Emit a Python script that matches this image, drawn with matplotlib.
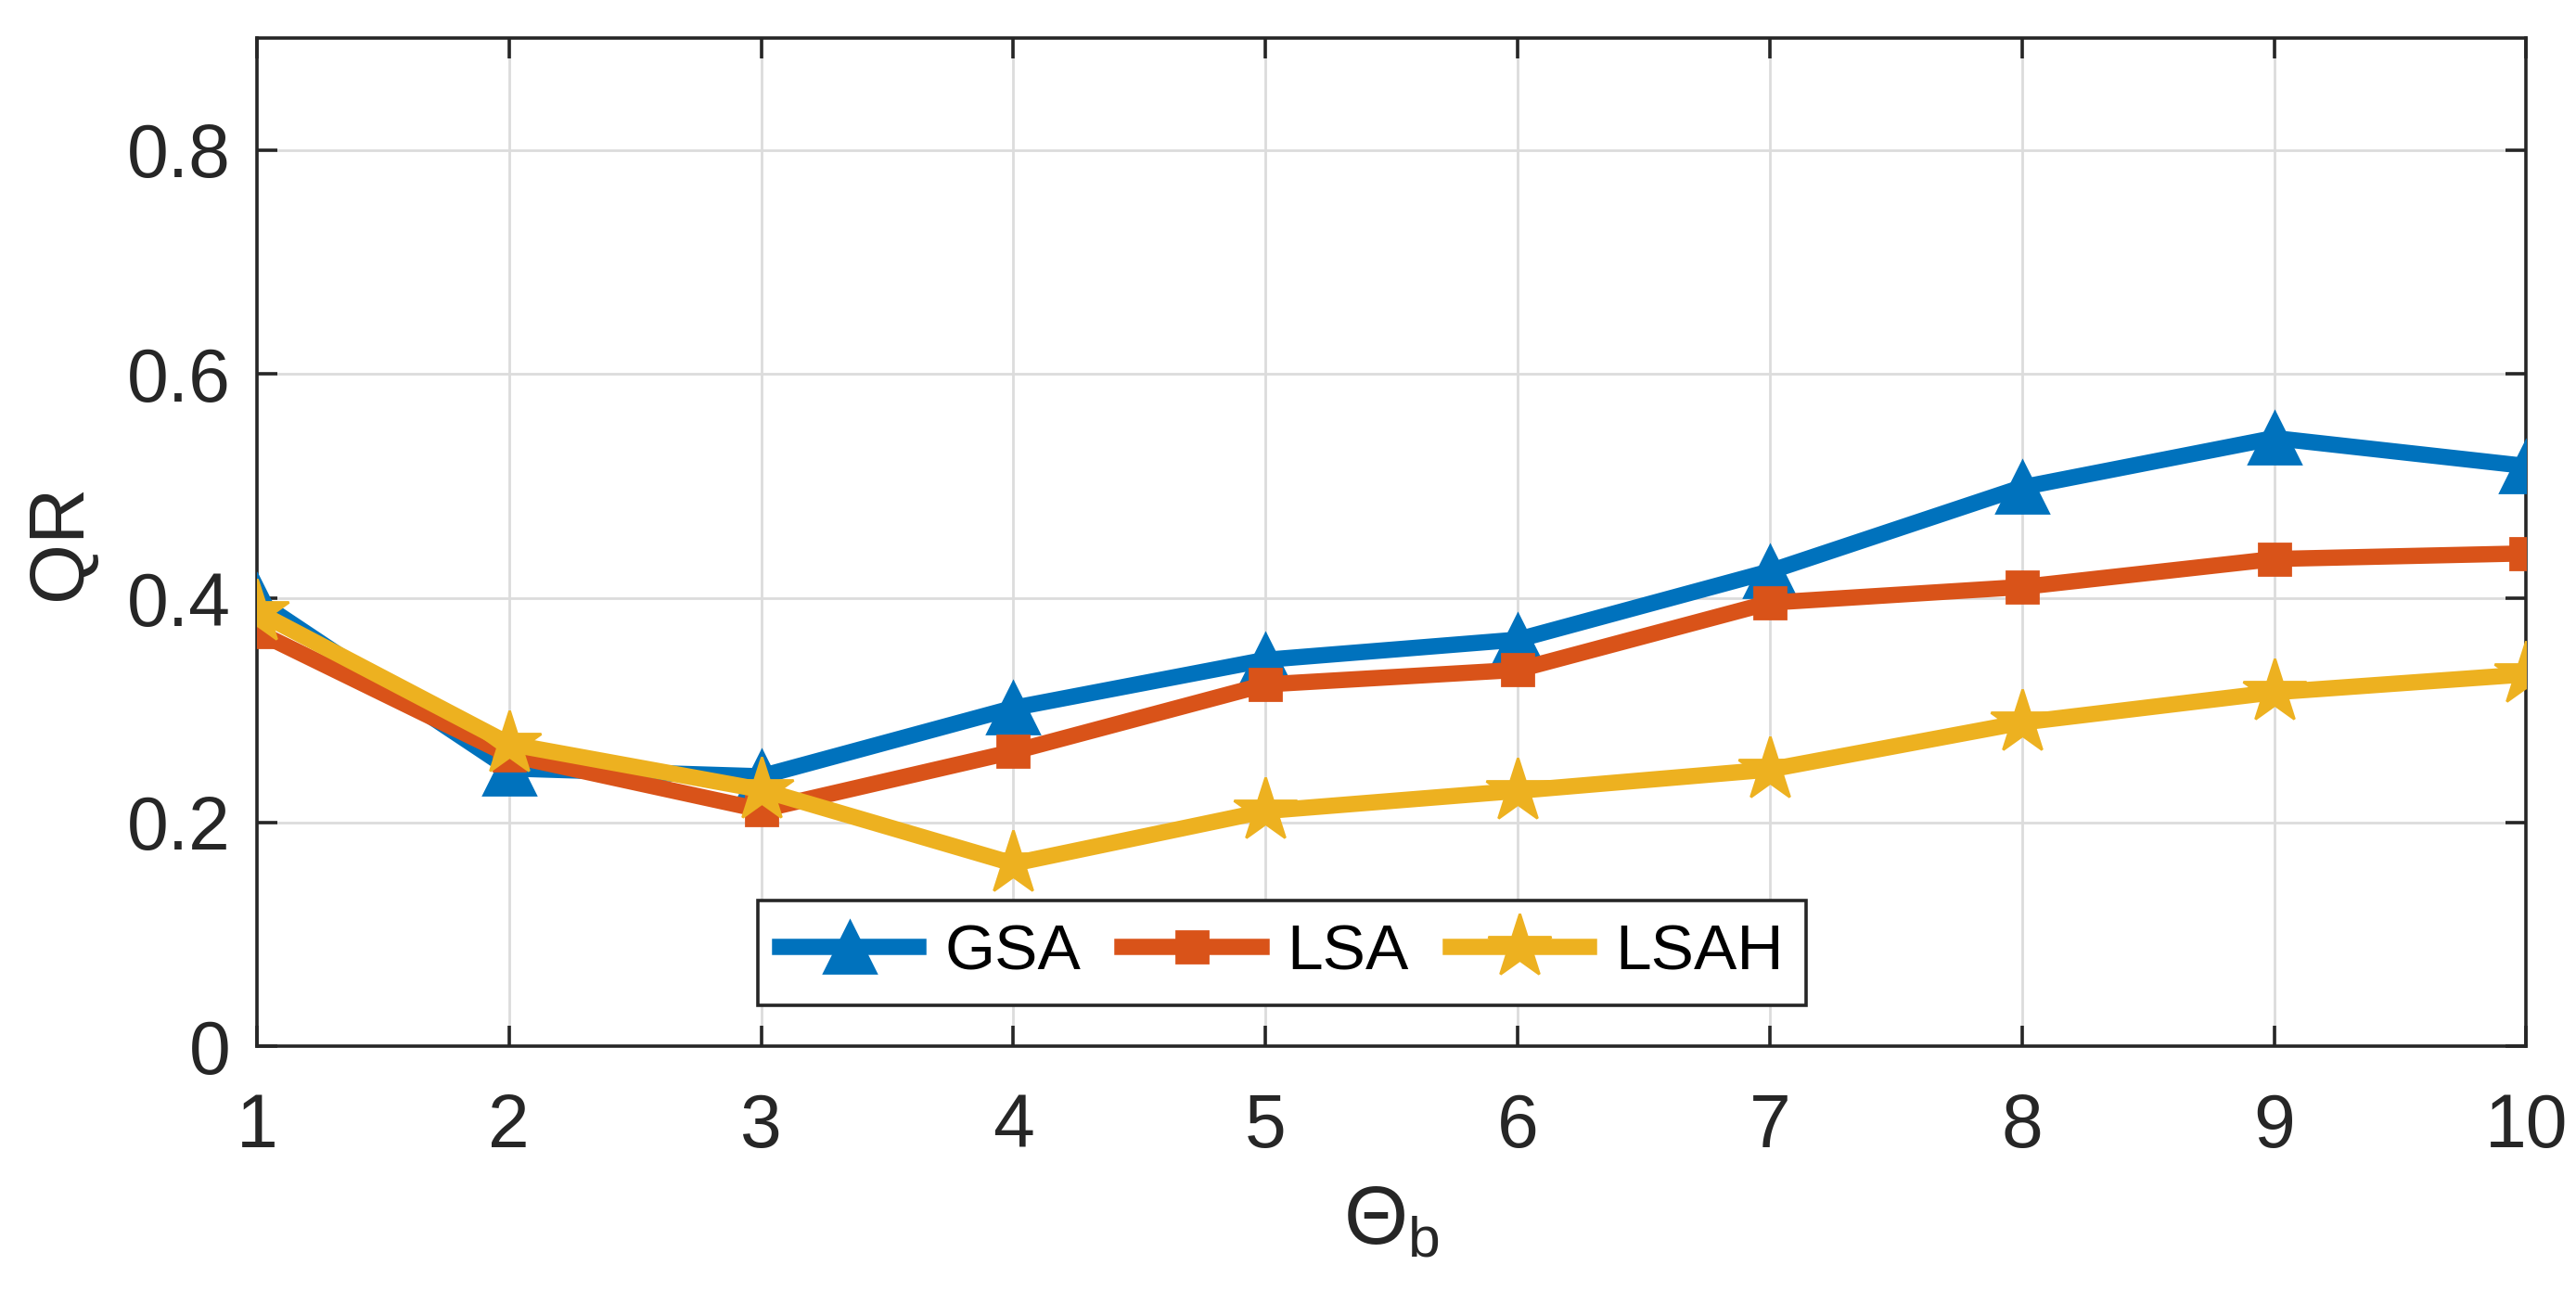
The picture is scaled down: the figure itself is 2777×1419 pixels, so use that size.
import matplotlib
matplotlib.use("Agg")
import matplotlib.pyplot as plt

# Data
theta_b = [1, 2, 3, 4, 5, 6, 7, 8, 9, 10]
gsa = [0.398, 0.248, 0.241, 0.302, 0.345, 0.363, 0.424, 0.499, 0.543, 0.518]
lsa = [0.370, 0.260, 0.211, 0.263, 0.323, 0.336, 0.396, 0.410, 0.435, 0.440]
lsah = [0.388, 0.270, 0.229, 0.163, 0.210, 0.228, 0.247, 0.289, 0.316, 0.332]
yticks = [0, 0.2, 0.4, 0.6, 0.8]
series_names = ["GSA", "LSA", "LSAH"]

plt.rcParams['font.family'] = ['Liberation Sans', 'DejaVu Sans']
plt.rcParams['mathtext.fontset'] = 'custom'
plt.rcParams['mathtext.rm'] = 'Liberation Sans'
plt.rcParams['mathtext.it'] = 'Liberation Sans'

fig = plt.figure(figsize=(13.885, 7.095), dpi=200)
ax = fig.add_axes([0.0997, 0.205, 0.881, 0.766])

ax.plot(theta_b, gsa, color='#0072BD', lw=6.3, marker='^', ms=20, label=series_names[0], zorder=3)
ax.plot(theta_b, lsa, color='#D95319', lw=6.3, marker='s', ms=12, label=series_names[1], zorder=4)
ax.plot(theta_b, lsah, color='#EDB120', lw=6.3, marker='*', ms=26, label=series_names[2], zorder=5)

ax.set_xlim(1, 10)
ax.set_ylim(0, 0.9)
ax.set_xticks(theta_b)
ax.set_yticks(yticks)
ax.set_yticklabels(['0', '0.2', '0.4', '0.6', '0.8'])

ax.grid(True, color='#dcdcdc', lw=1.0)
ax.set_axisbelow(True)
for s in ax.spines.values():
    s.set_color('#262626')
    s.set_linewidth(1.3)
ax.tick_params(direction='in', length=8, width=1.3, colors='#262626',
               labelsize=29, top=True, right=True, pad=10)
ax.tick_params(axis='x', pad=18)

ax.set_ylabel('QR', fontsize=30, color='#262626', labelpad=12)
ax.set_xlabel(r'$\Theta_\mathrm{b}$', fontsize=32, color='#262626', labelpad=8)

leg = ax.legend(ncol=3, loc='lower left', bbox_to_anchor=(0.2207, 0.041),
                borderaxespad=0, fontsize=25, fancybox=False, framealpha=1,
                edgecolor='#262626', handlelength=2.15, handletextpad=0.4,
                columnspacing=0.65, borderpad=0.35)
leg.get_frame().set_linewidth(1.3)

fig.savefig('out.png', dpi=200)
